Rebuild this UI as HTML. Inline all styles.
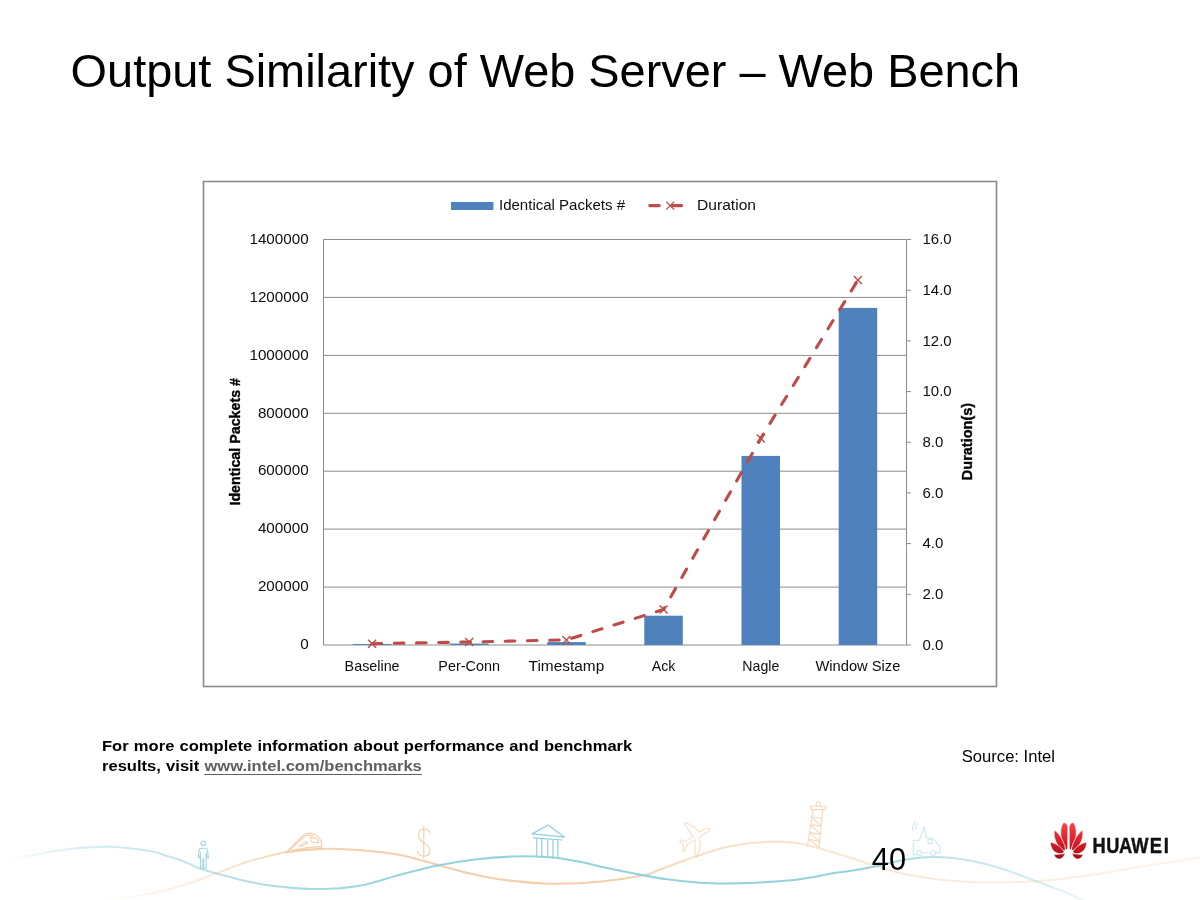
<!DOCTYPE html>
<html lang="en">
<head>
<meta charset="utf-8">
<title>Output Similarity of Web Server – Web Bench</title>
<style>
  html, body { margin: 0; padding: 0; background: #ffffff; }
  body { width: 1200px; height: 900px; position: relative; overflow: hidden;
         font-family: "Liberation Sans", sans-serif; color: #000; }
  .abs { position: absolute; white-space: nowrap; }
  #title { left: 70.6px; top: 42.1px; font-size: 46.9px; line-height: 58px; letter-spacing: 0px; }
  #note { left: 102.4px; top: 735.7px; font-size: 15.5px; line-height: 20px; font-weight: bold; white-space: nowrap; word-spacing: 0.55px; transform: scaleX(1.068); transform-origin: 0 0; }
  #note a { color: #5f5f5f; text-decoration: underline; text-underline-offset: 3px; text-decoration-thickness: 1.4px; }
  #source { left: 961.8px; top: 746.6px; font-size: 16.6px; line-height: 20px; }
  #pageno { left: 871.8px; top: 843.2px; font-size: 30.8px; line-height: 34px; }
  svg { position: absolute; left: 0; top: 0; }
  svg text { font-family: "Liberation Sans", sans-serif; }
</style>
</head>
<body>

<!-- decorative footer waves + icons -->
<svg id="deco" width="1200" height="900" viewBox="0 0 1200 900">
  <defs>
    <linearGradient id="gb" gradientUnits="userSpaceOnUse" x1="0" y1="0" x2="1200" y2="0">
      <stop offset="0" stop-color="#96d2dc" stop-opacity="0"/>
      <stop offset="0.05" stop-color="#96d2dc" stop-opacity="0.3"/>
      <stop offset="0.16" stop-color="#96d2dc" stop-opacity="0.6"/>
      <stop offset="0.27" stop-color="#96d2dc" stop-opacity="0.85"/>
      <stop offset="0.35" stop-color="#96d2dc" stop-opacity="1"/>
      <stop offset="0.42" stop-color="#96d2dc" stop-opacity="1"/>
      <stop offset="0.72" stop-color="#96d2dc" stop-opacity="1"/>
      <stop offset="0.79" stop-color="#96d2dc" stop-opacity="0.6"/>
      <stop offset="0.87" stop-color="#96d2dc" stop-opacity="0.4"/>
      <stop offset="0.905" stop-color="#96d2dc" stop-opacity="0.15"/>
    </linearGradient>
    <linearGradient id="go" gradientUnits="userSpaceOnUse" x1="0" y1="0" x2="1200" y2="0">
      <stop offset="0.08" stop-color="#f4cfaa" stop-opacity="0"/>
      <stop offset="0.17" stop-color="#f4cfaa" stop-opacity="0.4"/>
      <stop offset="0.24" stop-color="#f4cfaa" stop-opacity="0.8"/>
      <stop offset="0.3" stop-color="#f4cfaa" stop-opacity="1"/>
      <stop offset="0.38" stop-color="#f4cfaa" stop-opacity="1"/>
      <stop offset="0.52" stop-color="#f4cfaa" stop-opacity="1"/>
      <stop offset="0.57" stop-color="#f4cfaa" stop-opacity="0.65"/>
      <stop offset="0.72" stop-color="#f4cfaa" stop-opacity="0.5"/>
      <stop offset="0.85" stop-color="#f4cfaa" stop-opacity="0.35"/>
      <stop offset="1" stop-color="#f4cfaa" stop-opacity="0.25"/>
    </linearGradient>
    <linearGradient id="gr" gradientUnits="userSpaceOnUse" x1="0" y1="822" x2="0" y2="859">
      <stop offset="0" stop-color="#f04a45"/>
      <stop offset="0.45" stop-color="#e3212b"/>
      <stop offset="1" stop-color="#a30d15"/>
    </linearGradient>
  </defs>
  <path id="wave-o" fill="none" stroke="url(#go)" stroke-width="2.1"
        d="M95.0,900.0 C101.3,899.4 121.0,898.2 133.0,896.5 C145.0,894.8 155.8,892.8 167.0,890.0 C178.2,887.2 191.8,882.3 200.0,879.5 C208.2,876.7 208.2,876.2 216.0,873.3 C223.8,870.4 238.2,864.8 246.7,862.0 C255.2,859.2 260.3,858.2 267.0,856.5 C273.7,854.8 279.5,853.1 286.7,852.0 C293.9,850.9 302.3,850.1 310.0,849.6 C317.7,849.1 323.5,848.6 333.0,848.8 C342.5,849.0 355.8,849.7 367.0,850.7 C378.2,851.7 388.0,852.6 400.0,855.0 C412.0,857.4 427.3,862.1 439.0,865.2 C450.7,868.3 459.0,871.0 470.0,873.5 C481.0,876.0 491.7,878.3 505.0,880.0 C518.3,881.7 534.2,883.4 550.0,883.7 C565.8,884.0 584.2,883.2 600.0,881.7 C615.8,880.2 635.0,877.0 645.0,875.0 C655.0,873.0 651.3,872.7 660.0,869.5 C668.7,866.3 685.3,859.9 697.0,856.0 C708.7,852.1 718.2,848.7 730.0,846.3 C741.8,843.9 756.3,842.3 768.0,841.8 C779.7,841.3 788.0,841.4 800.0,843.5 C812.0,845.6 828.2,851.0 840.0,854.5 C851.8,858.0 860.8,861.4 870.8,864.5 C880.8,867.6 889.6,870.6 900.0,873.0 C910.4,875.4 922.2,877.2 933.0,878.7 C943.8,880.2 953.8,881.1 965.0,881.7 C976.2,882.3 985.8,882.8 1000.0,882.5 C1014.2,882.2 1033.3,881.5 1050.0,880.0 C1066.7,878.5 1083.3,876.0 1100.0,873.5 C1116.7,871.0 1133.3,867.7 1150.0,865.0 C1166.7,862.3 1191.7,858.8 1200.0,857.5"/>
  <path id="wave-b" fill="none" stroke="url(#gb)" stroke-width="2.1"
        d="M5.0,860.5 C9.7,859.6 22.7,856.9 33.0,855.0 C43.3,853.1 54.2,850.7 67.0,849.3 C79.8,847.9 96.2,846.4 110.0,846.7 C123.8,847.0 140.5,849.5 150.0,851.0 C159.5,852.5 162.0,854.5 167.0,856.0 C172.0,857.5 174.5,857.9 180.0,860.0 C185.5,862.1 194.0,866.3 200.0,868.5 C206.0,870.7 208.2,871.2 216.0,873.3 C223.8,875.4 238.2,879.3 246.7,881.3 C255.2,883.2 260.3,884.0 267.0,885.0 C273.7,886.0 279.0,886.6 286.7,887.3 C294.4,888.0 304.1,888.9 313.0,889.0 C321.9,889.1 331.0,889.0 340.0,888.2 C349.0,887.4 357.0,886.5 367.0,884.3 C377.0,882.0 388.0,877.9 400.0,874.7 C412.0,871.5 426.5,867.7 439.0,865.2 C451.5,862.7 462.8,861.0 475.0,859.5 C487.2,858.0 500.0,856.9 512.5,856.5 C525.0,856.1 538.8,856.4 550.0,857.3 C561.2,858.2 571.7,860.3 580.0,861.8 C588.3,863.3 591.2,864.6 600.0,866.5 C608.8,868.4 621.8,871.2 633.0,873.3 C644.2,875.4 655.8,877.7 667.0,879.3 C678.2,880.9 689.0,882.0 700.0,882.7 C711.0,883.4 721.8,883.5 733.0,883.4 C744.2,883.3 755.8,882.7 767.0,882.0 C778.2,881.3 789.0,880.7 800.0,879.2 C811.0,877.8 824.7,874.7 833.0,873.3 C841.3,871.9 843.0,872.1 850.0,871.0 C857.0,869.9 865.3,868.5 875.0,866.5 C884.7,864.5 898.0,860.9 908.0,859.3 C918.0,857.7 925.2,856.9 935.0,857.0 C944.8,857.1 956.2,858.2 967.0,860.0 C977.8,861.8 989.0,864.7 1000.0,868.0 C1011.0,871.3 1021.8,875.8 1033.0,880.0 C1044.2,884.2 1058.3,889.5 1067.0,893.0 C1075.7,896.5 1082.0,899.7 1085.0,901.0"/>
  <!-- person -->
  <g fill="none" stroke="#8fcfdb" stroke-width="1.1" stroke-linejoin="round" opacity="0.85">
    <circle cx="203.3" cy="843.3" r="2.3"/>
    <path d="M201.2,848.2 h4.2 q1.8,0.1 2.1,2 l0.9,7.4 h-1.5 l-0.8,-5 v15.6 h-2.4 v-9.5 h-0.8 v9.5 h-2.4 v-15.6 l-0.8,5 h-1.5 l0.9,-7.4 q0.3,-1.9 2.1,-2 z"/>
  </g>
  <!-- train -->
  <g fill="none" stroke="#f3c9a0" stroke-width="1.1" stroke-linejoin="round" stroke-linecap="round" opacity="0.9">
    <path d="M285.6,852.8 L303.5,835 Q307.5,832.2 313,833.6 Q321.2,836.5 321.8,845 L321.4,848.6 Q303,849.4 285.6,852.8 Z"/>
    <path d="M288.5,851.2 L304.8,836.4 Q308,834.4 312.5,835.6"/>
    <path d="M310.5,837.2 L316.5,838.6 Q319,840.6 318.4,842.6 L312.2,842.2 Q310,840 310.5,837.2 Z"/>
    <path d="M299.5,845.6 L306.4,841.4 L307.6,843 L300.6,846.8 Z"/>
    <path d="M292,850.4 Q306,847.4 321,846.6"/>
  </g>
  <!-- dollar -->
  <g fill="none" stroke="#f3c9a0" stroke-width="1.1" stroke-linecap="round" opacity="0.95">
    <path d="M430,833 C429,830.2 426.6,829 424,829 C420.5,829 418.6,831.5 418.6,835 C418.6,839.5 421.5,841.5 424,843 C427,845 430,846.5 430,850.5 C430,854 427.5,856.2 424,856.2 C420.5,856.2 418,854.5 417.3,851"/>
    <path d="M423.8,826.6 V858.8"/>
  </g>
  <!-- bank -->
  <g fill="none" stroke="#8fcfdb" stroke-width="1.2" stroke-linejoin="round" stroke-linecap="round">
    <path d="M532,833.9 L548.2,825 L564.6,837.2 Z"/>
    <path d="M533.6,837.8 L562.2,840"/>
    <path d="M536.8,839 V856.8 M541.8,839.4 V857.2 M547.7,839.8 V857.6 M553,840.2 V858 M557.9,840.6 V858.4"/>
  </g>
  <!-- airplane -->
  <g fill="none" stroke="#f3c9a0" stroke-width="1.1" stroke-linejoin="round" stroke-linecap="round" opacity="0.6">
    <path d="M709.6,828.4 Q710.4,830.4 707.6,832 L700.2,836.8 L699.4,841 L700.4,841.6 L699.8,843.6 L700.8,844.4 L699.4,849 L696.8,857 L695.2,857 L695.2,839.8 L687.4,844.4 L684,851.6 L682.4,851.8 L683.6,845.2 L679.8,841.2 L680.6,839.8 L685.6,841.4 L693,836.6 L684.6,824.4 L685.6,822.4 L689.2,824 L690,825.4 L691.4,825 L692.6,826.8 L693.8,826.6 L699.4,832 L705.4,828.6 Q708,827.4 709.6,828.4 Z"/>
  </g>
  <!-- tower -->
  <g fill="none" stroke="#f3c9a0" stroke-width="1.1" stroke-linejoin="round" stroke-linecap="round" opacity="0.7">
    <path d="M816.2,806.2 V803 Q818.3,800.2 820.4,803 V806.2"/>
    <path d="M810.2,806.2 H826.4 L825.2,809.6 H811.4 Z"/>
    <path d="M813.2,809.6 L807.6,845.6 M822.8,809.6 L819,847.8"/>
    <path d="M812,817 L822,818.4 M810.8,824.6 L821.2,826.4 M809.6,832.4 L820.4,834.4 M808.6,839 L819.6,841.6"/>
    <path d="M812,817 L821.2,826.4 M810.8,824.6 L820.4,834.4 M809.6,832.4 L819.6,841.6 M808.6,839 L819,847.6"/>
  </g>
  <!-- truck -->
  <g fill="none" stroke="#8fcfdb" stroke-width="1.1" stroke-linejoin="round" stroke-linecap="round" opacity="0.45">
    <path d="M913.2,854.8 V840.2 H919.4 L924,827 L926.6,838 H932.6 L936.8,842.6 L940.2,847 V852.6 H935.6 M930.4,852.8 H921.8 M916.4,854.8 H913.2"/>
    <path d="M928,839.6 h4.2 v4 h-4.2 z"/>
    <circle cx="919.2" cy="853" r="2.5"/><circle cx="933" cy="853" r="2.5"/>
    <path d="M917.4,823.4 Q914.8,826 916.2,829.4 M915.4,821.2 Q911.2,825.6 913.4,831"/>
  </g>
  <!-- huawei flower -->
  <g fill="url(#gr)" stroke="#ffffff" stroke-width="0.7" stroke-linejoin="round">
    <path id="pt" d="M1067.7,849.2 L1067.9,827 C1067.5,824 1065.5,822.5 1063.5,822.6 C1061,826 1060,832 1061.3,838 C1062.3,842.5 1064,846.5 1066.2,849.6 Z"/>
    <path id="pd" d="M1054.4,830 C1053.2,836.5 1055.5,845.5 1063.8,850.7 L1065.6,849.7 C1064.6,843 1060.5,834.5 1054.4,830 Z"/>
    <path id="ps" d="M1050.2,842.3 C1055.8,842.8 1061.2,846.8 1064.1,851.5 L1063.3,853.2 C1056.5,855.2 1050.6,850.5 1050.2,842.3 Z"/>
    <path id="pb" d="M1065.2,853.6 L1053.8,854.6 C1054.8,857.8 1058,859.8 1060.8,858.8 C1062.8,857.8 1064.4,855.8 1065.2,853.6 Z"/>
    <g transform="translate(2137,0) scale(-1,1)">
      <path d="M1067.7,849.2 L1067.9,827 C1067.5,824 1065.5,822.5 1063.5,822.6 C1061,826 1060,832 1061.3,838 C1062.3,842.5 1064,846.5 1066.2,849.6 Z"/>
      <path d="M1054.4,830 C1053.2,836.5 1055.5,845.5 1063.8,850.7 L1065.6,849.7 C1064.6,843 1060.5,834.5 1054.4,830 Z"/>
      <path d="M1050.2,842.3 C1055.8,842.8 1061.2,846.8 1064.1,851.5 L1063.3,853.2 C1056.5,855.2 1050.6,850.5 1050.2,842.3 Z"/>
      <path d="M1065.2,853.6 L1053.8,854.6 C1054.8,857.8 1058,859.8 1060.8,858.8 C1062.8,857.8 1064.4,855.8 1065.2,853.6 Z"/>
    </g>
  </g>
  <text transform="translate(1092.6,852.7) scale(0.84,1)" x="0 16.2 31.4 46 68 84.6" y="0" font-size="21.8" font-weight="bold" fill="#111111" stroke="#111111" stroke-width="0.45">HUAWEI</text>
</svg>

<div id="title" class="abs">Output Similarity of Web Server – Web Bench</div>

<!-- chart -->
<svg id="chart" width="1200" height="900" viewBox="0 0 1200 900">
  <rect x="203.5" y="181.5" width="793" height="505" fill="#ffffff" stroke="#8a8a8a" stroke-width="1.6"/>
  <g stroke="#8c8c8c" stroke-width="1" fill="none">
  <line x1="323.5" y1="645.0" x2="906.5" y2="645.0"/>
  <line x1="323.5" y1="587.1" x2="906.5" y2="587.1"/>
  <line x1="323.5" y1="529.1" x2="906.5" y2="529.1"/>
  <line x1="323.5" y1="471.2" x2="906.5" y2="471.2"/>
  <line x1="323.5" y1="413.3" x2="906.5" y2="413.3"/>
  <line x1="323.5" y1="355.4" x2="906.5" y2="355.4"/>
  <line x1="323.5" y1="297.4" x2="906.5" y2="297.4"/>
  <line x1="323.5" y1="239.5" x2="906.5" y2="239.5"/>
  <line x1="323.5" y1="239.5" x2="323.5" y2="645.0"/>
  <line x1="906.5" y1="239.5" x2="906.5" y2="645.0"/>
  <line x1="906.5" y1="645.0" x2="911" y2="645.0"/>
  <line x1="906.5" y1="594.3" x2="911" y2="594.3"/>
  <line x1="906.5" y1="543.6" x2="911" y2="543.6"/>
  <line x1="906.5" y1="492.9" x2="911" y2="492.9"/>
  <line x1="906.5" y1="442.2" x2="911" y2="442.2"/>
  <line x1="906.5" y1="391.6" x2="911" y2="391.6"/>
  <line x1="906.5" y1="340.9" x2="911" y2="340.9"/>
  <line x1="906.5" y1="290.2" x2="911" y2="290.2"/>
  <line x1="906.5" y1="239.5" x2="911" y2="239.5"/>
  </g>
  <g fill="#4f81bd">
  <rect x="352.8" y="644.1" width="38.5" height="0.9"/>
  <rect x="450.0" y="643.6" width="38.5" height="1.4"/>
  <rect x="547.2" y="642.1" width="38.5" height="2.9"/>
  <rect x="644.3" y="615.7" width="38.5" height="29.3"/>
  <rect x="741.5" y="455.9" width="38.5" height="189.1"/>
  <rect x="838.7" y="307.9" width="38.5" height="337.1"/>
  </g>
  <polyline fill="none" stroke="#be4b48" stroke-width="3.1" stroke-linecap="round" stroke-dasharray="9.6 12.6" points="372.1,643.7 469.2,642.0 566.4,639.9 663.6,609.5 760.8,438.4 857.9,280.1"/>
  <g stroke="#be4b48" stroke-width="1.4" fill="none">
  <path d="M368.1,639.7 l8,8 M368.1,647.7 l8,-8"/>
  <path d="M465.2,638.0 l8,8 M465.2,646.0 l8,-8"/>
  <path d="M562.4,635.9 l8,8 M562.4,643.9 l8,-8"/>
  <path d="M659.6,605.5 l8,8 M659.6,613.5 l8,-8"/>
  <path d="M756.8,434.4 l8,8 M756.8,442.4 l8,-8"/>
  <path d="M853.9,276.1 l8,8 M853.9,284.1 l8,-8"/>
  </g>
  <g font-size="15.2" fill="#0d0d0d" text-anchor="end">
  <text x="308.6" y="649.2">0</text>
  <text x="308.6" y="591.3">200000</text>
  <text x="308.6" y="533.3">400000</text>
  <text x="308.6" y="475.4">600000</text>
  <text x="308.6" y="417.5">800000</text>
  <text x="308.6" y="359.6">1000000</text>
  <text x="308.6" y="301.6">1200000</text>
  <text x="308.6" y="243.7">1400000</text>
  </g>
  <g font-size="15" fill="#0d0d0d" text-anchor="start">
  <text x="922.5" y="649.7">0.0</text>
  <text x="922.5" y="599.0">2.0</text>
  <text x="922.5" y="548.3">4.0</text>
  <text x="922.5" y="497.6">6.0</text>
  <text x="922.5" y="447.0">8.0</text>
  <text x="922.5" y="396.3">10.0</text>
  <text x="922.5" y="345.6">12.0</text>
  <text x="922.5" y="294.9">14.0</text>
  <text x="922.5" y="244.2">16.0</text>
  </g>
  <g font-size="15" fill="#0d0d0d" text-anchor="middle">
  <text x="372.1" y="670.7" textLength="55" lengthAdjust="spacingAndGlyphs">Baseline</text>
  <text x="469.2" y="670.7" textLength="61.7" lengthAdjust="spacingAndGlyphs">Per-Conn</text>
  <text x="566.4" y="670.7" textLength="75.7" lengthAdjust="spacingAndGlyphs">Timestamp</text>
  <text x="663.6" y="670.7" textLength="23.7" lengthAdjust="spacingAndGlyphs">Ack</text>
  <text x="760.8" y="670.7" textLength="37" lengthAdjust="spacingAndGlyphs">Nagle</text>
  <text x="857.9" y="670.7" textLength="85" lengthAdjust="spacingAndGlyphs">Window Size</text>
  </g>
  <rect x="451" y="202" width="42.5" height="8" fill="#4f81bd"/>
  <text x="499" y="210.3" font-size="15" fill="#0d0d0d" textLength="126" lengthAdjust="spacingAndGlyphs">Identical Packets #</text>
  <path d="M649.8,205.6 h9.4 M672.2,205.6 h9.4" fill="none" stroke="#be4b48" stroke-width="3.1" stroke-linecap="round"/>
  <path d="M666.2,201.6 l8,8 M666.2,209.6 l8,-8" stroke="#be4b48" stroke-width="1.3" fill="none"/>
  <text x="697" y="210.3" font-size="15" fill="#0d0d0d" textLength="59" lengthAdjust="spacingAndGlyphs">Duration</text>
  <text transform="translate(240,441.8) rotate(-90)" text-anchor="middle" font-size="14.5" font-weight="bold" fill="#000" stroke="#000" stroke-width="0.35" textLength="127.5" lengthAdjust="spacingAndGlyphs">Identical Packets #</text>
  <text transform="translate(972,441.5) rotate(-90)" text-anchor="middle" font-size="14.5" font-weight="bold" fill="#000" stroke="#000" stroke-width="0.35" textLength="77.4" lengthAdjust="spacingAndGlyphs">Duration(s)</text>
</svg>

<div id="note" class="abs">For more complete information about performance and benchmark<br>results, visit <a>www.intel.com/benchmarks</a></div>
<div id="source" class="abs">Source: Intel</div>
<div id="pageno" class="abs">40</div>

</body>
</html>
